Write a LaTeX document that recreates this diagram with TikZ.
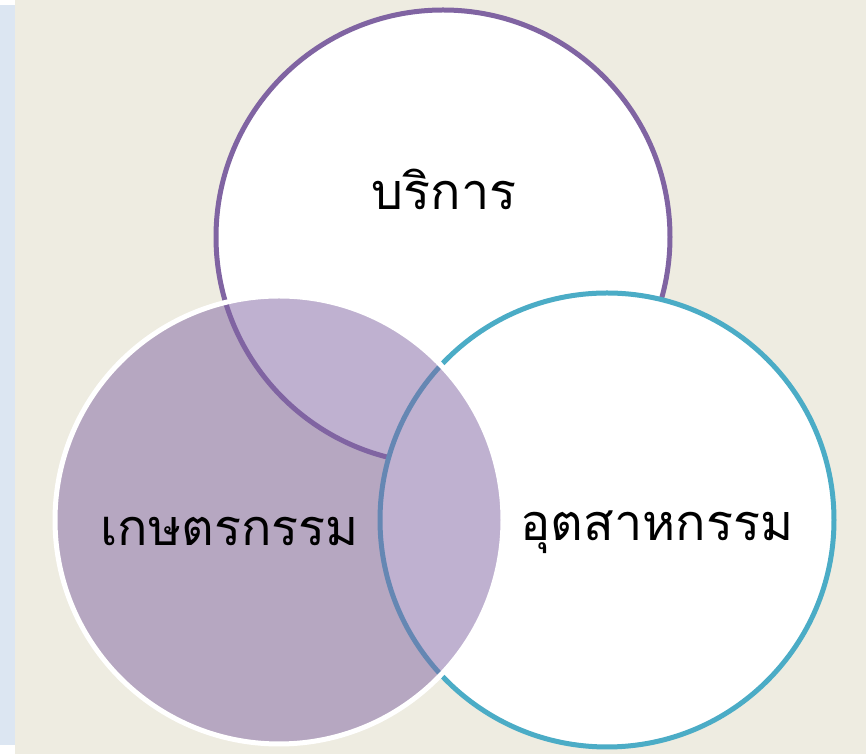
\documentclass[tikz,border=0pt]{standalone}
\usepackage{fontspec}
\newfontfamily\thaifont[Script=Thai]{Loma}
\definecolor{cbeige}{HTML}{EEECE1}
\definecolor{cstrip}{HTML}{DCE6F2}
\definecolor{cpurple}{HTML}{8064A2}
\definecolor{cteal}{HTML}{4BACC6}
\tikzset{
  every picture/.style={x=0.3mm, y=0.3mm},
  ring/.style={draw=#1, fill=white, line width=5*0.3mm},
  lens/.style={draw=white, line width=5*0.3mm, fill=cpurple, fill opacity=0.5},
  label/.style={font=\thaifont\fontsize{43}{50}\selectfont, text=black},
}

\begin{document}
\begin{tikzpicture}
  % background and side strip
  \fill[cbeige] (0,0) rectangle (866,754);
  \fill[white] (0,0) rectangle (15,754);
  \fill[cstrip] (0,9) rectangle (15,749);
  % three sets
  \draw[ring=cpurple] (443,517) circle (227);
  \draw[ring=cteal] (607,234) circle (227);
  \draw[lens] (279,234) circle (224);
  \node[label] (service) at (444,565) {บริการ};
  \node[label] (farm) at (230,222) {เกษตรกรรม};
  \node[label] (industry) at (657,222) {อุตสาหกรรม};
\end{tikzpicture}
\end{document}
